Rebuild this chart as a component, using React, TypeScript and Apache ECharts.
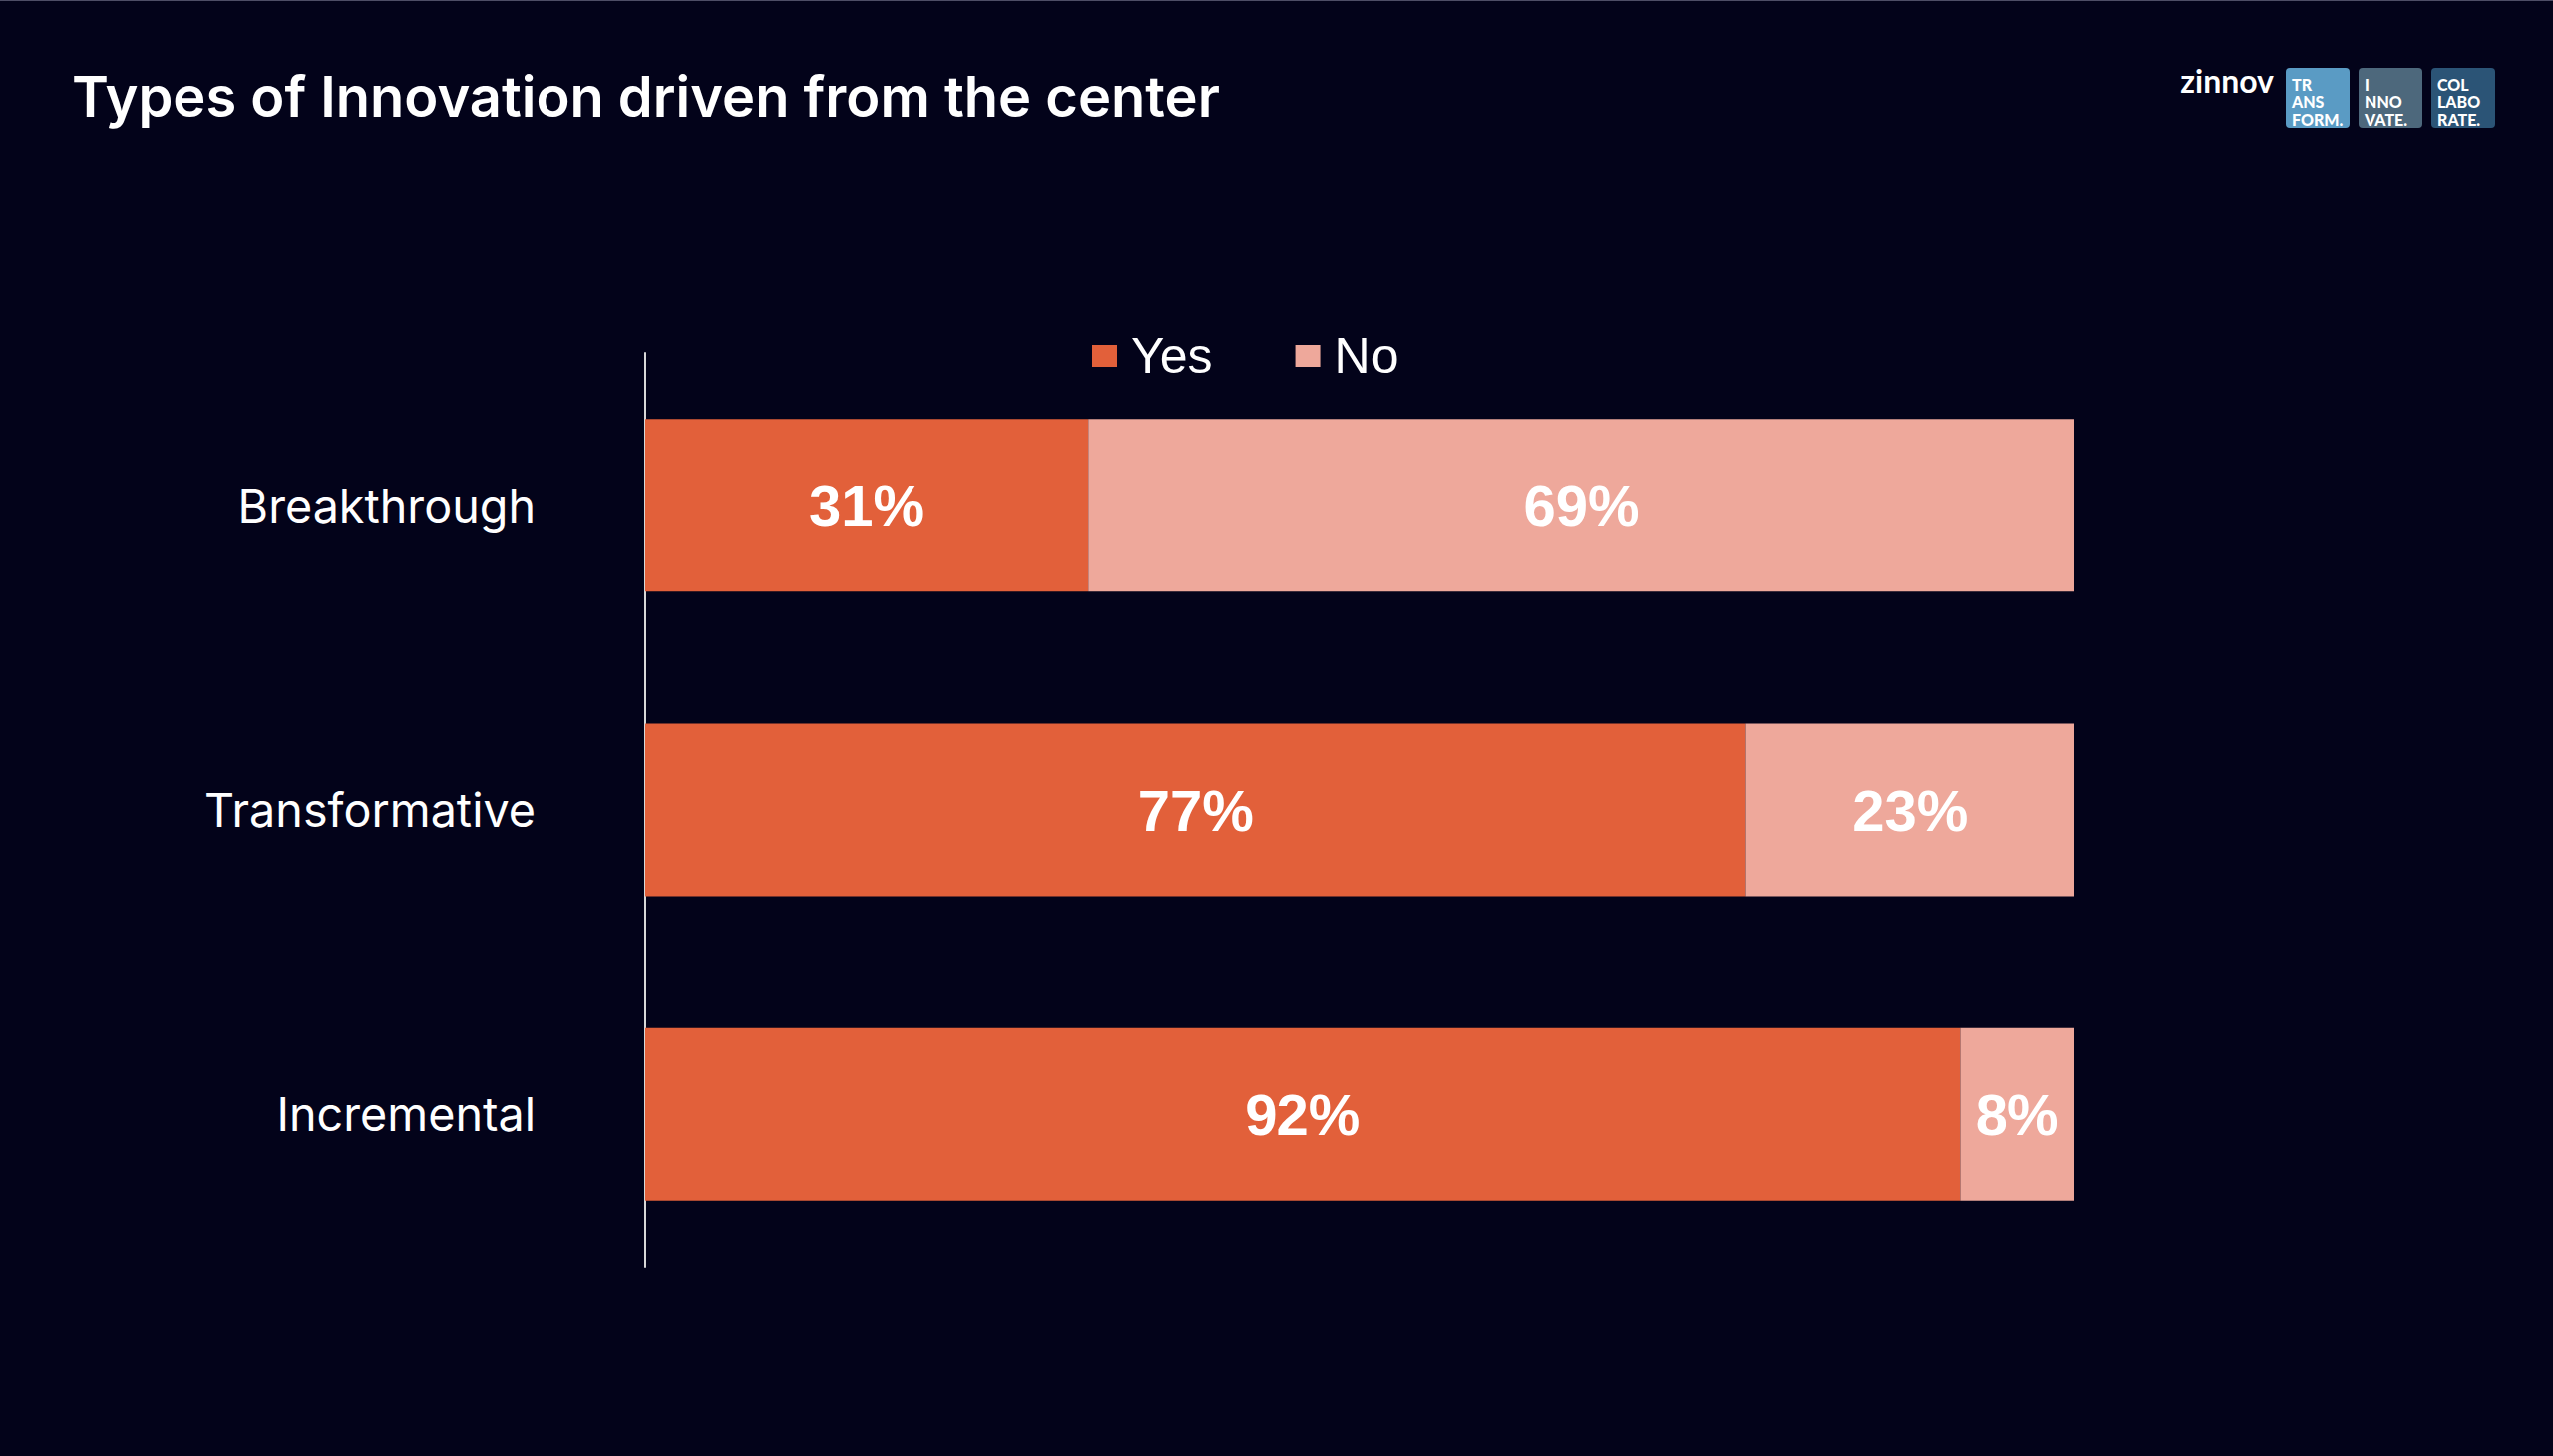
import React, { useEffect, useRef } from "react";
import * as echarts from "echarts";

const categories = ["Breakthrough", "Transformative", "Incremental"];
const yesValues = [31, 77, 92];
const noValues = [69, 23, 8];
const seriesNames = ["Yes", "No"];
const titleText = "Types of Innovation driven from the center";
const logoWord = "zinnov";
const logoBoxes = [
  { lines: ["TR", "ANS", "FORM."], color: "#5a9bc4" },
  { lines: ["I", "NNO", "VATE."], color: "#4d687c" },
  { lines: ["COL", "LABO", "RATE."], color: "#2b5476" },
];

const BG = "#03031a";
const YES = "#e2603a";
const NO = "#eea89b";

export default function App() {
  const ref = useRef<HTMLDivElement>(null);

  useEffect(() => {
    document.body.style.margin = "0";
    document.body.style.background = BG;
    const chart = echarts.init(ref.current!, null, { renderer: "svg" });

    const boxX = [2292, 2365, 2438];
    const logoGraphics: any[] = [];
    logoBoxes.forEach((b, i) => {
      logoGraphics.push({
        type: "rect",
        shape: { x: boxX[i], y: 68, width: 64, height: 60, r: 4 },
        style: { fill: b.color },
      });
      b.lines.forEach((ln, j) => {
        logoGraphics.push({
          type: "text",
          x: boxX[i] + 6,
          y: 84 + j * 17.5,
          style: {
            text: ln,
            fill: "#ffffff",
            font: "900 16px Lato",
            textAlign: "left",
            textVerticalAlign: "middle",
          },
        });
      });
    });

    const labelStyle = {
      show: true,
      position: "inside",
      formatter: "{c}%",
      color: "#ffffff",
      fontSize: 58,
      fontWeight: "bold",
      fontFamily: "Liberation Sans",
    };

    chart.setOption({
      animation: false,
      backgroundColor: BG,
      graphic: [
        { type: "rect", shape: { x: 0, y: 0, width: 2560, height: 1 }, style: { fill: "#4e4e66" } },
        {
          type: "text",
          x: 72,
          y: 97,
          style: {
            text: titleText,
            fill: "#ffffff",
            font: "600 56px Inter",
            textAlign: "left",
            textVerticalAlign: "middle",
          },
        },
        {
          type: "text",
          x: 2280,
          y: 80,
          style: {
            text: logoWord,
            fill: "#ffffff",
            font: "bold 32px Lato",
            textAlign: "right",
            textVerticalAlign: "middle",
          },
        },
        ...logoGraphics,
      ],
      legend: {
        data: seriesNames,
        left: 1090,
        top: 327,
        icon: "rect",
        itemWidth: 25,
        itemHeight: 22,
        itemGap: 84,
        textStyle: {
          color: "#ffffff",
          fontSize: 50,
          fontFamily: "Liberation Sans",
          padding: [0, 0, 0, 9],
        },
      },
      grid: { left: 647, right: 480, top: 354, bottom: 190, containLabel: false },
      xAxis: { type: "value", min: 0, max: 100, show: false },
      yAxis: {
        type: "category",
        data: categories,
        inverse: true,
        axisLine: { show: true, lineStyle: { color: "#d8d8d8", width: 2 } },
        axisTick: { show: false },
        axisLabel: {
          color: "#ffffff",
          fontSize: 46.7,
          fontFamily: "Inter",
          margin: 110,
        },
      },
      series: [
        {
          name: seriesNames[0],
          type: "bar",
          stack: "total",
          data: yesValues,
          barWidth: 173,
          itemStyle: { color: YES },
          label: labelStyle,
        },
        {
          name: seriesNames[1],
          type: "bar",
          stack: "total",
          data: noValues,
          barWidth: 173,
          itemStyle: { color: NO },
          label: labelStyle,
        },
      ],
    });

    return () => chart.dispose();
  }, []);

  return (
    <div
      ref={ref}
      style={{ position: "fixed", left: 0, top: 0, width: 2560, height: 1460, background: BG }}
    />
  );
}
